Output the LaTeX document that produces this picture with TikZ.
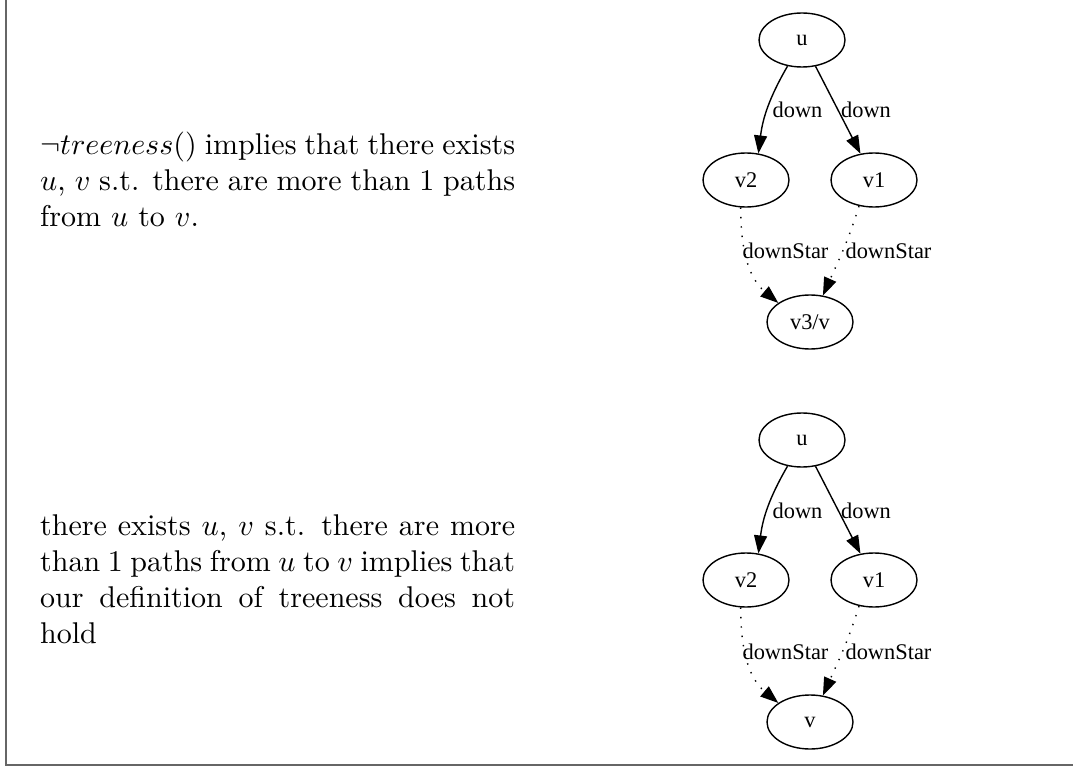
\documentclass[tikz,border=0pt]{standalone}
\usepackage{fontspec}
\usepackage{graphicx}
\usetikzlibrary{shapes.geometric,arrows.meta}
\newfontfamily\gvfont{Liberation Serif}
\begin{document}
\begin{tikzpicture}[x=1pt,y=-1pt,
  gvnode/.style={draw, ellipse, line width=1.4pt, minimum width=86pt, minimum height=54pt, inner sep=0pt,
    font=\gvfont\fontsize{22.4}{26}\selectfont},
  gvlabel/.style={anchor=base, inner sep=0pt, font=\gvfont\fontsize{22.4}{26}\selectfont},
  gvedge/.style={line width=1.4pt, -{Triangle[length=18pt,width=13pt]}},
  gvdot/.style={gvedge, dash pattern=on 1.4pt off 8pt},
  frameline/.style={draw=black!60, line width=2pt},
  para/.style={anchor=base west, inner sep=0pt}]
\useasboundingbox (0,0) rectangle (1073,767);
\draw[frameline] (5.5,0) -- (5.5,764.5) -- (1073,764.5);

% top paragraph
\node[para] (t1) at (40,155) {\scalebox{3}{\parbox[t]{158.3pt}{\fontsize{10}{12}\selectfont
$\neg treeness()$ implies that there exists\linebreak $u$, $v$ s.t. there are more than 1 paths\linebreak from $u$ to $v$.}}};

% bottom paragraph
\node[para] (t2) at (40,535) {\scalebox{3}{\parbox[t]{158.3pt}{\fontsize{10}{12}\selectfont
there exists $u$, $v$ s.t. there are more\linebreak than 1 paths from $u$ to $v$ implies that\linebreak our definition of treeness does not\linebreak hold}}};

% top graph
\node[gvnode] (u) at (802,40) {u};
\node[gvnode] (v2) at (746,180) {v2};
\node[gvnode] (v1) at (874,180) {v1};
\node[gvnode] (v3) at (810,322) {v3/v};
\draw[gvedge] (u.-119) to[out=-120,in=83] (v2.65);
\draw[gvedge] (u) -- (v1);
\draw[gvdot] (v2.-101) to[out=-90,in=140] (v3.149);
\draw[gvdot] (v1.-120) to[out=-107,in=66] (v3.64);
\node[gvlabel] (l1) at (797.5,118) {down};
\node[gvlabel] (l2) at (866,118) {down};
\node[gvlabel] (l3) at (785.5,259) {downStar};
\node[gvlabel] (l4) at (888.5,259) {downStar};

% bottom graph
\node[gvnode] (bu) at (802,440) {u};
\node[gvnode] (bv2) at (746,580) {v2};
\node[gvnode] (bv1) at (874,580) {v1};
\node[gvnode] (bv) at (810,722) {v};
\draw[gvedge] (bu.-119) to[out=-120,in=83] (bv2.65);
\draw[gvedge] (bu) -- (bv1);
\draw[gvdot] (bv2.-101) to[out=-90,in=140] (bv.149);
\draw[gvdot] (bv1.-120) to[out=-107,in=66] (bv.64);
\node[gvlabel] (bl1) at (797.5,518) {down};
\node[gvlabel] (bl2) at (866,518) {down};
\node[gvlabel] (bl3) at (785.5,659) {downStar};
\node[gvlabel] (bl4) at (888.5,659) {downStar};
\end{tikzpicture}
\end{document}
